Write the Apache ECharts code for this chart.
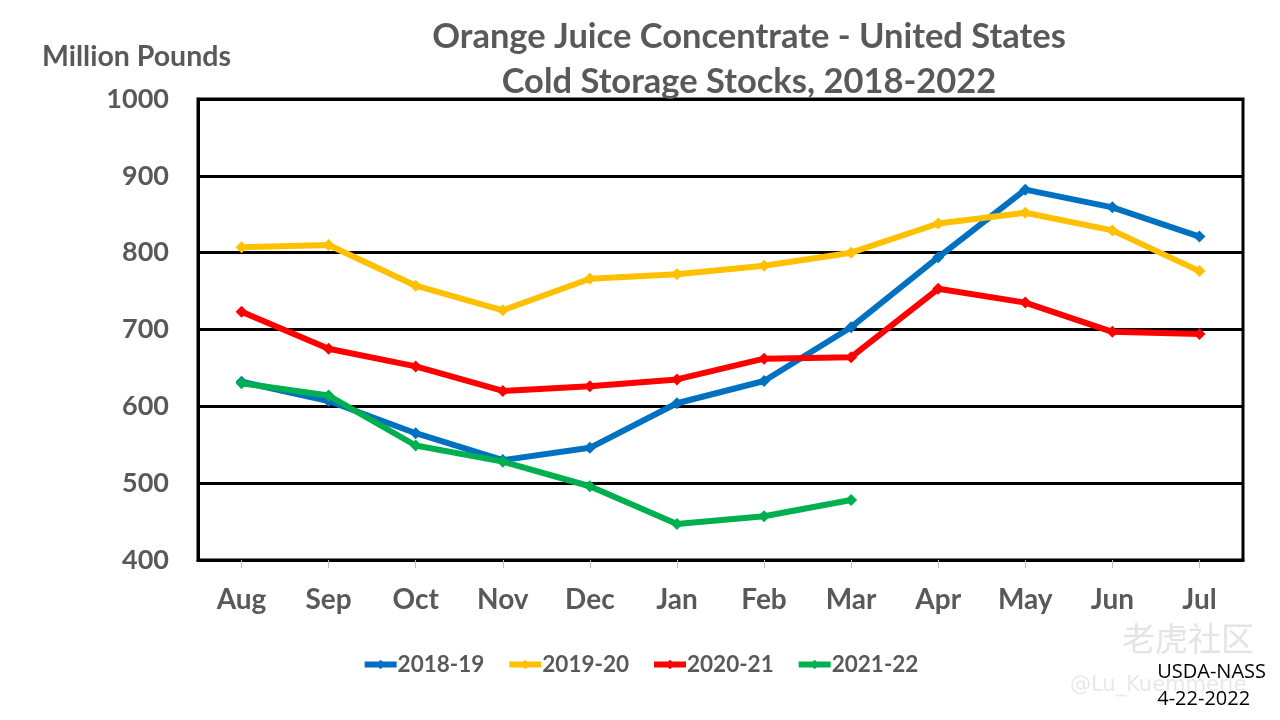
<!DOCTYPE html>
<html><head><meta charset="utf-8">
<script src="https://cdn.jsdelivr.net/npm/echarts@6/dist/echarts.min.js"></script>
<style>html,body{margin:0;padding:0;background:#fff}#c{width:1280px;height:720px}</style>
</head><body><div id="c"></div>
<script>
const months = ['Aug','Sep','Oct','Nov','Dec','Jan','Feb','Mar','Apr','May','Jun','Jul'];
const yTicks = [400,500,600,700,800,900,1000];
const s2018_19 = [632,607,565,530,546,604,633,703,794,882,859,821];
const s2019_20 = [807,810,757,725,766,772,783,800,838,852,829,776];
const s2020_21 = [723,675,652,620,626,635,662,664,753,735,697,694];
const s2021_22 = [630,614,549,528,496,447,457,478];
const seriesNames = ['2018-19','2019-20','2020-21','2021-22'];
const seriesColors = ['#0070C0','#FFC000','#FF0000','#00B050'];
const seriesData = [s2018_19,s2019_20,s2020_21,s2021_22];

const FONT = 'Lato';
const chart = echarts.init(document.getElementById('c'));
chart.setOption({
  animation:false,
  backgroundColor:'#fff',
  title:{
    text:'Orange Juice Concentrate - United States\nCold Storage Stocks, 2018-2022',
    left:744, top:9, textAlign:'center',
    textStyle:{fontFamily:FONT,fontWeight:'bold',fontSize:34.5,color:'#595959',lineHeight:45}
  },
  graphic:[
    {type:'text',left:42,top:42,style:{text:'Million Pounds',fontFamily:FONT,fontWeight:'bold',fontSize:28.5,fill:'#595959'}},
    {type:'text',right:14,top:659,style:{text:'USDA-NASS\n4-22-2022',fontFamily:'Open Sans',fontSize:20,fill:'#000',align:'right',lineHeight:27}},
    {type:'text',left:1122,top:622,z:-1,style:{text:'老虎社区',fontFamily:'Noto Sans CJK SC',fontSize:33,fill:'#e4e4e4'}},
    {type:'text',left:1070,top:675,z:-1,style:{text:'@Lu_Kuemmerle',fontFamily:'DejaVu Sans',fontSize:21,fill:'#e8e8e8'}}
  ],
  legend:{
    bottom:39, left:'center', itemGap:22, itemWidth:32, itemHeight:12,
    lineStyle:{width:6},
    textStyle:{fontFamily:FONT,fontWeight:'bold',fontSize:22.5,color:'#595959',padding:[0,0,0,-4]},
    data:seriesNames
  },
  grid:{left:198,right:37,top:99,bottom:160,show:true,borderColor:'#000',borderWidth:3},
  xAxis:{
    type:'category', data:months, boundaryGap:true,
    axisLine:{show:true,lineStyle:{color:'#000',width:3}},
    axisTick:{show:true,alignWithLabel:true,length:8,lineStyle:{color:'#bbb',width:1}},
    axisLabel:{fontFamily:FONT,fontWeight:'bold',fontSize:28,color:'#595959',margin:26},
    splitLine:{show:false}
  },
  yAxis:{
    type:'value', min:400, max:1000, interval:100,
    axisLine:{show:true,lineStyle:{color:'#000',width:3}},
    axisTick:{show:false},
    axisLabel:{fontFamily:FONT,fontWeight:'bold',fontSize:27,color:'#595959',margin:29,
      formatter:v=>yTicks.includes(v)?String(v):''},
    splitLine:{show:true,lineStyle:{color:'#000',width:3}}
  },
  series:seriesData.map((d,i)=>({
    name:seriesNames[i], type:'line', data:d,
    symbol:'diamond', symbolSize:12, showSymbol:true,
    lineStyle:{color:seriesColors[i],width:6},
    itemStyle:{color:seriesColors[i]},
    z:2+ (i===3?1:0)
  }))
});
</script></body></html>
